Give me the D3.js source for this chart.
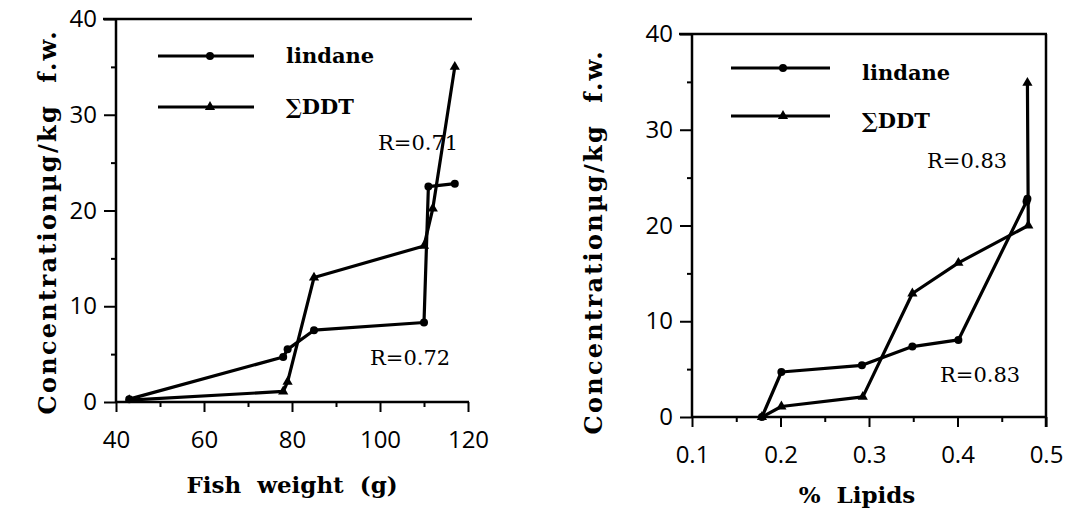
<!DOCTYPE html>
<html><head><meta charset="utf-8">
<script src="https://cdn.jsdelivr.net/npm/d3@7"></script>
<style>
body{margin:0;background:#fff;}
svg{display:block;}
</style></head>
<body>
<svg id="c" width="1068" height="512"></svg>
<script>
// ---- data ----
const weightLindane = [43, 78, 79, 85, 110, 111, 117];
const lindaneByWeight = [0.3, 4.7, 5.5, 7.5, 8.3, 22.5, 22.8];
const weightDDT = [43, 78, 79, 85, 110, 112, 117];
const ddtByWeight = [0.2, 1.1, 2.1, 13.0, 16.3, 20.2, 35.0];

const lipidLindane = [0.179, 0.201, 0.292, 0.349, 0.401, 0.478, 0.479];
const lindaneByLipid = [0.0, 4.7, 5.4, 7.35, 8.05, 22.5, 22.8];
const lipidDDT = [0.179, 0.201, 0.293, 0.349, 0.401, 0.480, 0.479];
const ddtByLipid = [0.0, 1.1, 2.1, 12.9, 16.1, 20.0, 34.9];

const yTicks = [0, 10, 20, 30, 40];
const yMinor = [5, 15, 25, 35];
const weightTicks = [40, 60, 80, 100, 120];
const weightMinor = [50, 70, 90, 110];
const lipidTicks = [0.1, 0.2, 0.3, 0.4, 0.5];
const lipidMinor = [0.15, 0.25, 0.35, 0.45];

const seriesNames = ["lindane", "\u2211DDT"];
const yTitle = "Concentration\u00b5g/kg\u00a0\u00a0f.w.";
const xTitleL = "Fish\u00a0\u00a0weight\u00a0\u00a0(g)";
const xTitleR = "%\u00a0\u00a0Lipids";
const rLeft = ["R=0.71", "R=0.72"];
const rRight = ["R=0.83", "R=0.83"];

// ---- drawing ----
const svg = d3.select("#c");
const serifB = "'DejaVu Serif', serif";
const tickFont = "'Open Sans', sans-serif";

function panel(opt) {
  const g = svg.append("g");
  const x = opt.x, y = opt.y;
  const [x0, x1] = x.range();
  const [y0, y1] = y.range();

  // axes
  const ax = g.append("g").attr("transform", `translate(0,${y0})`)
    .call(d3.axisBottom(x).tickValues(opt.xTicks).tickSize(10).tickPadding(19)
      .tickFormat(opt.xFmt));
  const axm = g.append("g").attr("transform", `translate(0,${y0})`)
    .call(d3.axisBottom(x).tickValues(opt.xMinor).tickSize(5).tickFormat(""));
  const ay = g.append("g").attr("transform", `translate(${x0},0)`)
    .call(d3.axisLeft(y).tickValues(yTicks).tickSize(12).tickPadding(7));
  const aym = g.append("g").attr("transform", `translate(${x0},0)`)
    .call(d3.axisLeft(y).tickValues(yMinor).tickSize(5).tickFormat(""));
  [ax, axm, ay, aym].forEach(a => {
    a.select(".domain").remove();
    a.selectAll("line").attr("stroke", "#000").attr("stroke-width", 2);
    a.selectAll("text").attr("font-family", tickFont).attr("font-size", 24).attr("fill", "#000");
  });
  // axis lines
  g.append("line").attr("x1", x0).attr("x2", x1 + 1).attr("y1", y0).attr("y2", y0)
    .attr("stroke", "#000").attr("stroke-width", 2.5);
  g.append("line").attr("x1", x0).attr("x2", x0).attr("y1", y0 + 1).attr("y2", y1)
    .attr("stroke", "#000").attr("stroke-width", 2.5);
  // top line
  g.append("line").attr("x1", x0 - 13).attr("x2", opt.topEnd).attr("y1", y1).attr("y2", y1)
    .attr("stroke", "#000").attr("stroke-width", 2.5);
  if (opt.rightFrame) {
    g.append("line").attr("x1", x1).attr("x2", x1).attr("y1", y1).attr("y2", y0 + 10)
      .attr("stroke", "#000").attr("stroke-width", 2.5);
  }

  // series
  const line = d3.line().x(d => x(d[0])).y(d => y(d[1]));
  const L = opt.lx.map((v, i) => [v, opt.ly[i]]);
  const D = opt.dx.map((v, i) => [v, opt.dy[i]]);
  [L, D].forEach(s => g.append("path").datum(s).attr("d", line)
    .attr("fill", "none").attr("stroke", "#000").attr("stroke-width", 3.2)
    .attr("stroke-linejoin", "round"));
  g.selectAll(".c").data(L).enter().append("circle")
    .attr("cx", d => x(d[0])).attr("cy", d => y(d[1])).attr("r", 4).attr("fill", "#000");
  const tri = d3.symbol().type(d3.symbolTriangle).size(45);
  g.selectAll(".t").data(D).enter().append("path")
    .attr("d", tri).attr("transform", d => `translate(${x(d[0])},${y(d[1])})`).attr("fill", "#000");

  // legend
  const lg = opt.legend;
  [0, 1].forEach(i => {
    const ly = lg.y[i];
    g.append("line").attr("x1", lg.x1).attr("x2", lg.x2).attr("y1", ly).attr("y2", ly)
      .attr("stroke", "#000").attr("stroke-width", 3);
    if (i === 0) g.append("circle").attr("cx", lg.m).attr("cy", ly).attr("r", 4).attr("fill", "#000");
    else g.append("path").attr("d", tri).attr("transform", `translate(${lg.m},${ly})`).attr("fill", "#000");
    g.append("text").attr("x", lg.tx).attr("y", lg.ty[i]).text(seriesNames[i])
      .attr("font-family", serifB).attr("font-weight", "bold").attr("font-size", 21).attr("fill", "#000");
  });

  // R labels
  opt.r.forEach(r => g.append("text").attr("x", r.x).attr("y", r.y).text(r.t)
    .attr("font-family", "'DejaVu Serif', serif").attr("font-size", 21).attr("fill", "#000"));

  // titles
  g.append("text").attr("transform", `translate(${opt.yTitleX},${opt.yTitleY}) rotate(-90)`)
    .attr("text-anchor", "middle").text(yTitle)
    .attr("textLength", 383).attr("lengthAdjust", "spacing")
    .attr("font-family", serifB).attr("font-weight", "bold").attr("font-size", 24).attr("fill", "#000");
  g.append("text").attr("x", opt.xTitleX).attr("y", opt.xTitleY).attr("text-anchor", "middle")
    .text(opt.xTitle)
    .attr("font-family", serifB).attr("font-weight", "bold").attr("font-size", 23).attr("fill", "#000");
}

panel({
  x: d3.scaleLinear([40, 120], [116, 468]),
  y: d3.scaleLinear([0, 40], [402, 19]),
  xTicks: weightTicks, xMinor: weightMinor, xFmt: d3.format("d"),
  lx: weightLindane, ly: lindaneByWeight, dx: weightDDT, dy: ddtByWeight,
  topEnd: 472, rightFrame: false,
  legend: {x1: 158, x2: 254, m: 210, y: [56, 107], tx: 286, ty: [63, 114]},
  r: [{x: 378, y: 150, t: rLeft[0]}, {x: 370, y: 365, t: rLeft[1]}],
  yTitleX: 56, yTitleY: 223, xTitle: xTitleL, xTitleX: 292, xTitleY: 493
});
panel({
  x: d3.scaleLinear([0.1, 0.5], [692, 1046]),
  y: d3.scaleLinear([0, 40], [417, 34]),
  xTicks: lipidTicks, xMinor: lipidMinor, xFmt: d3.format(".1f"),
  lx: lipidLindane, ly: lindaneByLipid, dx: lipidDDT, dy: ddtByLipid,
  topEnd: 1047, rightFrame: true,
  legend: {x1: 731, x2: 830, m: 783, y: [68, 116], tx: 862, ty: [80, 128]},
  r: [{x: 927, y: 168, t: rRight[0]}, {x: 940, y: 382, t: rRight[1]}],
  yTitleX: 602, yTitleY: 243, xTitle: xTitleR, xTitleX: 857, xTitleY: 503
});
</script>
</body></html>
